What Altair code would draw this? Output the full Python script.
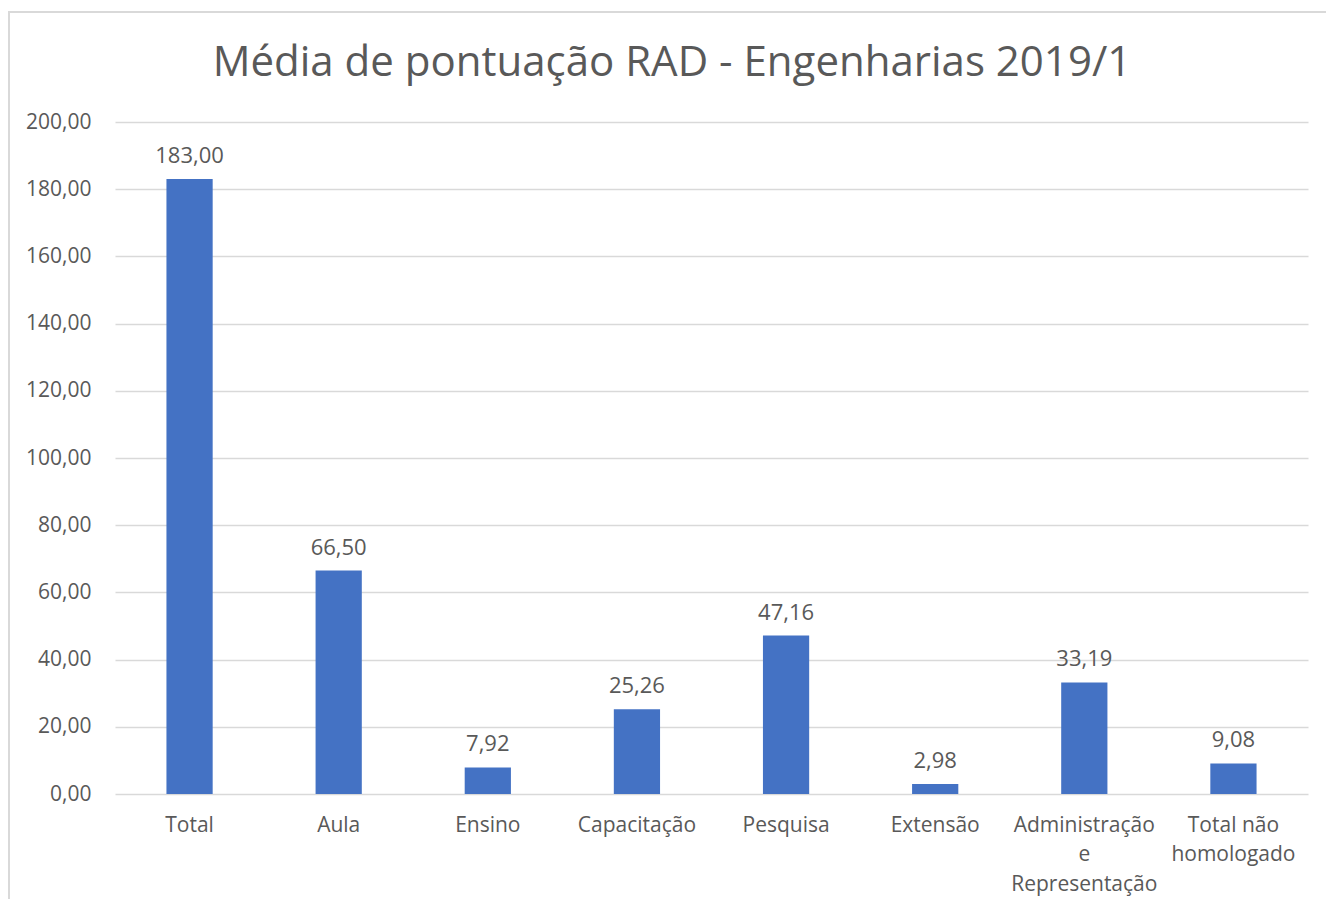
import altair as alt
import pandas as pd

categories = ["Total", "Aula", "Ensino", "Capacitação", "Pesquisa", "Extensão",
              "Administração|e|Representação", "Total não|homologado"]
values = [183.00, 66.50, 7.92, 25.26, 47.16, 2.98, 33.19, 9.08]
y_ticks = [0, 20, 40, 60, 80, 100, 120, 140, 160, 180, 200]
title_text = "Média de pontuação RAD - Engenharias 2019/1"

df = pd.DataFrame({"cat": categories, "val": values})
df["lbl"] = [f"{v:.2f}".replace(".", ",") for v in values]

FONT = "Open Sans"
GRAY = "#595959"
FS = 21

x_enc = alt.X("cat:N", sort=categories, title=None,
              scale=alt.Scale(paddingInner=0.69, paddingOuter=0.345),
              axis=alt.Axis(labelAngle=0, labelExpr="split(datum.label, '|')",
                            labelFontSize=FS, labelColor=GRAY, labelFont=FONT,
                            labelLineHeight=29.5, labelPadding=20,
                            ticks=False, domain=False, grid=False))
y_enc = alt.Y("val:Q", title=None,
              scale=alt.Scale(domain=[0, 200], nice=False),
              axis=alt.Axis(values=y_ticks,
                            labelExpr="replace(format(datum.value, '.2f'), '.', ',')",
                            labelFontSize=FS, labelColor=GRAY, labelFont=FONT,
                            labelPadding=24, ticks=False, domain=False,
                            grid=True, gridColor="#d9d9d9", gridWidth=1.5))

base = alt.Chart(df)
bars = base.mark_bar(color="#4472C4").encode(x=x_enc, y=y_enc)
labels = base.mark_text(fontSize=22, color=GRAY, font=FONT, baseline="alphabetic", dy=-16).encode(
    x=alt.X("cat:N", sort=categories), y="val:Q", text="lbl:N")

one = alt.Chart(pd.DataFrame({"t": [title_text]}))
frame = one.mark_rect(fill=None, stroke="#d9d9d9", strokeWidth=2).encode(
    x=alt.value(-106), x2=alt.value(1300), y=alt.value(-110), y2=alt.value(900))
title = one.mark_text(fontSize=42, color=GRAY, font=FONT, baseline="alphabetic",
                      align="center").encode(
    x=alt.value(557), y=alt.value(-46), text="t:N")

chart = alt.layer(frame, title, bars, labels).properties(
    width=1193, height=672,
    padding={"left": 107, "top": 114, "right": 18, "bottom": 105},
    autosize=alt.AutoSizeParams(type="none"),
).configure_view(stroke=None)

chart.save("out.html", embed_options={"renderer": "svg", "actions": False})
